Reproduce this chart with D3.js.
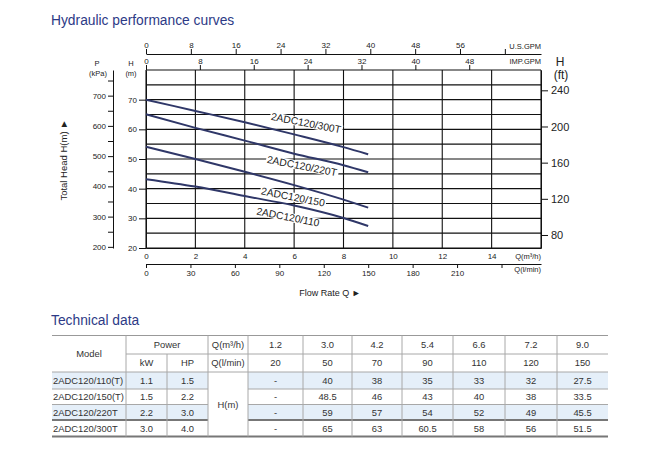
<!DOCTYPE html>
<html>
<head>
<meta charset="utf-8">
<script src="https://cdn.jsdelivr.net/npm/d3@7/dist/d3.min.js"></script>
<style>
  body { margin: 0; background: #fff; }
  svg text { font-family: "Liberation Sans", Arial, sans-serif; }
</style>
</head>
<body>
<div class="chart"></div>
<script>
// Curve data, Q in m3/h, H in m
var flowPoints = [0, 2, 4, 6, 8, 9];
var head300T = [70, 66.2, 62.4, 58.3, 54.0, 51.6];
var head220T = [65.1, 60.5, 56.2, 51.8, 47.9, 45.5];
var head150 = [54.1, 50, 45.7, 41.2, 36.3, 33.6];
var head110 = [43.2, 40.7, 37.5, 34.3, 30.1, 27.4];
var curveNames = ["2ADC120/300T", "2ADC120/220T", "2ADC120/150", "2ADC120/110"];

// Tick values
var flowTicks = [0, 2, 4, 6, 8, 10, 12, 14];
var lpmTicks = [0, 30, 60, 90, 120, 150, 180, 210, 240];
var usGpmTicks = [0, 8, 16, 24, 32, 40, 48, 56, 64];
var impGpmTicks = [0, 8, 16, 24, 32, 40, 48];
var headTicks = [20, 30, 40, 50, 60, 70];
var kpaTicks = [200, 250, 300, 350, 400, 450, 500, 550, 600, 650, 700, 750];
var ftTicks = [80, 120, 160, 200, 240];

// Technical data table
var tableModels = ["2ADC120/110(T)", "2ADC120/150(T)", "2ADC120/220T", "2ADC120/300T"];
var tableKw = ["1.1", "1.5", "2.2", "3.0"];
var tableHp = ["1.5", "2.2", "3.0", "4.0"];
var tableFlowM3h = ["1.2", "3.0", "4.2", "5.4", "6.6", "7.2", "9.0"];
var tableFlowLmin = ["20", "50", "70", "90", "110", "120", "150"];
var tableHead110 = ["-", "40", "38", "35", "33", "32", "27.5"];
var tableHead150 = ["-", "48.5", "46", "43", "40", "38", "33.5"];
var tableHead220 = ["-", "59", "57", "54", "52", "49", "45.5"];
var tableHead300 = ["-", "65", "63", "60.5", "58", "56", "51.5"];

var svgWidth = 646;
var svgHeight = 460;

var svg = d3.select(".chart")
  .append("svg")
  .attr("width", svgWidth)
  .attr("height", svgHeight);

var titleColor = "#2d3a86";
var curveColor = "#2f3768";

svg.append("text")
  .attr("x", 51).attr("y", 25)
  .attr("font-size", "13.8px")
  .attr("fill", titleColor)
  .text("Hydraulic performance curves");

svg.append("text")
  .attr("x", 51).attr("y", 325)
  .attr("font-size", "13.8px")
  .attr("fill", titleColor)
  .text("Technical data");

// Plot box
var plotLeft = 146, plotRight = 541, plotTop = 70, plotBottom = 248;

var xScale = d3.scaleLinear().domain([0, 16]).range([plotLeft, plotRight]);
var yScale = d3.scaleLinear().domain([20, 80]).range([plotBottom, plotTop]);
var lpmScale = d3.scaleLinear().domain([0, 16 * 1000 / 60]).range([plotLeft, plotRight]);
var usScale = d3.scaleLinear().domain([0, 16 * 4.40287]).range([plotLeft, plotRight]);
var impScale = d3.scaleLinear().domain([0, 16 * 3.66615]).range([plotLeft, plotRight]);
var kpaScale = d3.scaleLinear().domain([20 * 9.81, 80 * 9.81]).range([plotBottom, plotTop]);
var ftScale = d3.scaleLinear().domain([20 / 0.3048, 80 / 0.3048]).range([plotBottom, plotTop]);

// Grid
var grid = svg.append("g").attr("stroke", "#111").attr("stroke-width", 1.1);
grid.selectAll(".vg").data(d3.range(0, 17, 2)).enter().append("line")
  .attr("x1", d => xScale(d)).attr("x2", d => xScale(d))
  .attr("y1", plotTop).attr("y2", plotBottom);
grid.selectAll(".hg").data(d3.range(20, 81, 5)).enter().append("line")
  .attr("x1", plotLeft).attr("x2", plotRight)
  .attr("y1", d => yScale(d)).attr("y2", d => yScale(d));

function styleAxis(g, size) {
  g.selectAll("text").attr("font-size", size).attr("fill", "#222")
    .style("font-family", "'Liberation Sans', Arial, sans-serif");
  g.selectAll("line").attr("stroke", "#111");
  g.select(".domain").attr("stroke", "#111");
}

// H(m) left axis
var hAxis = svg.append("g")
  .attr("transform", `translate(${plotLeft},0)`)
  .call(d3.axisLeft(yScale).tickValues(headTicks).tickSize(7).tickSizeOuter(0).tickPadding(2));
styleAxis(hAxis, "8px");

// P(kPa) axis
var pAxis = svg.append("g")
  .attr("transform", "translate(113,0)")
  .call(d3.axisLeft(kpaScale).tickValues(kpaTicks).tickSize(5).tickSizeOuter(0).tickPadding(2)
    .tickFormat(d => d % 100 === 0 ? d : ""));
styleAxis(pAxis, "8px");

// H(ft) right axis
var ftAxis = svg.append("g")
  .attr("transform", `translate(${plotRight},0)`)
  .call(d3.axisRight(ftScale).tickValues(ftTicks).tickSize(7).tickSizeOuter(0).tickPadding(3));
styleAxis(ftAxis, "11px");

// Top axes
var usAxis = svg.append("g")
  .attr("transform", "translate(0,54)")
  .call(d3.axisTop(usScale).tickValues(usGpmTicks).tickSize(5).tickSizeOuter(0).tickPadding(1)
    .tickFormat(d => d === 64 ? "" : d));
styleAxis(usAxis, "8px");

var impAxis = svg.append("g")
  .attr("transform", `translate(0,${plotTop})`)
  .call(d3.axisTop(impScale).tickValues(impGpmTicks).tickSize(5).tickSizeOuter(0).tickPadding(1));
impAxis.select(".domain").remove();
styleAxis(impAxis, "8px");

// Bottom axes
var qAxis = svg.append("g")
  .attr("transform", `translate(0,${plotBottom})`)
  .call(d3.axisBottom(xScale).tickValues(flowTicks).tickSize(0).tickPadding(5));
styleAxis(qAxis, "8px");

var lpmAxis = svg.append("g")
  .attr("transform", "translate(0,264)")
  .call(d3.axisBottom(lpmScale).tickValues(lpmTicks).tickSize(4).tickSizeOuter(0).tickPadding(2)
    .tickFormat(d => d === 240 ? "" : d));
styleAxis(lpmAxis, "8px");

// Axis unit labels
function smallLabel(x, y, txt, size, anchor) {
  svg.append("text").attr("x", x).attr("y", y)
    .attr("font-size", size || "7.5px")
    .attr("text-anchor", anchor || "middle")
    .attr("fill", "#222")
    .text(txt);
}
smallLabel(97, 66, "P");
smallLabel(98, 76, "(kPa)");
smallLabel(131, 66, "H");
smallLabel(131, 76, "(m)");
smallLabel(560, 66, "H", "12px");
smallLabel(561, 79, "(ft)", "12px");
smallLabel(541, 49, "U.S.GPM", "7.5px", "end");
smallLabel(541, 64, "IMP.GPM", "7.5px", "end");
smallLabel(541, 259, "Q(m³/h)", "7.5px", "end");
smallLabel(541, 272, "Q(l/min)", "7.5px", "end");
smallLabel(330, 296, "Flow Rate Q ►", "9px");

svg.append("text")
  .attr("transform", "translate(67,160) rotate(-90)")
  .attr("text-anchor", "middle")
  .attr("font-size", "9.5px")
  .attr("fill", "#222")
  .text("Total Head H(m) ►");

// Curve labels with white background (under the curves)
var labelPos = [[306, 123], [302, 166], [293, 197], [288, 217]];
var labelLayer = svg.append("g");
curveNames.forEach(function(name, i) {
  var g = labelLayer.append("g")
    .attr("transform", `translate(${labelPos[i][0]},${labelPos[i][1]}) rotate(11)`);
  var t = g.append("text")
    .attr("text-anchor", "middle")
    .attr("dy", "0.35em")
    .attr("font-size", "10.3px")
    .attr("fill", "#222")
    .text(name);
  var bb = t.node().getBBox();
  g.insert("rect", "text")
    .attr("x", bb.x - 1).attr("y", bb.y + 1)
    .attr("width", bb.width + 2).attr("height", bb.height - 2)
    .attr("fill", "#fff");
});

// Curves
var curveSeries = [head300T, head220T, head150, head110];
var line = d3.line()
  .x((d, i) => xScale(flowPoints[i]))
  .y(d => yScale(d))
  .curve(d3.curveMonotoneX);

svg.selectAll(".curve").data(curveSeries).enter().append("path")
  .attr("class", "curve")
  .attr("d", d => line(d))
  .attr("fill", "none")
  .attr("stroke", curveColor)
  .attr("stroke-width", 2);

// Table
var colEdges = [52, 126, 167, 208, 248, 303, 352, 402, 453, 505, 557, 608];
var rowEdges = [335.5, 354, 372, 389, 404.5, 420, 436.5];
var tableHeads = [tableHead110, tableHead150, tableHead220, tableHead300];
var table = svg.append("g");
var textColor = "#333";
var blueFill = "#e5eff9";

// shaded rows
[0, 2].forEach(function(r) {
  table.append("rect")
    .attr("x", colEdges[0]).attr("y", rowEdges[r + 2])
    .attr("width", colEdges[3] - colEdges[0]).attr("height", rowEdges[r + 3] - rowEdges[r + 2])
    .attr("fill", blueFill);
  table.append("rect")
    .attr("x", colEdges[4]).attr("y", rowEdges[r + 2])
    .attr("width", colEdges[11] - colEdges[4]).attr("height", rowEdges[r + 3] - rowEdges[r + 2])
    .attr("fill", blueFill);
});

function hline(x1, x2, y, w, c) {
  table.append("line").attr("x1", x1).attr("x2", x2).attr("y1", y).attr("y2", y)
    .attr("stroke", c || "#a8a8a8").attr("stroke-width", w || 1);
}
function vline(x, y1, y2) {
  table.append("line").attr("x1", x).attr("x2", x).attr("y1", y1).attr("y2", y2)
    .attr("stroke", "#a8a8a8").attr("stroke-width", 1);
}
hline(colEdges[0], colEdges[11], rowEdges[0], 1.2, "#999");
hline(colEdges[1], colEdges[11], rowEdges[1]);
hline(colEdges[0], colEdges[11], rowEdges[2]);
[3, 4].forEach(function(r) {
  hline(colEdges[0], colEdges[3], rowEdges[r]);
  hline(colEdges[4], colEdges[11], rowEdges[r]);
});
hline(colEdges[0], colEdges[3], rowEdges[5], 2, "#777");
hline(colEdges[4], colEdges[11], rowEdges[5], 2, "#777");
hline(colEdges[0], colEdges[11], rowEdges[6], 2, "#777");
for (var c = 1; c < 11; c++) {
  vline(colEdges[c], c === 2 ? rowEdges[1] : rowEdges[0], rowEdges[6]);
}

function cell(x, y, txt, anchor) {
  table.append("text")
    .attr("x", x).attr("y", y)
    .attr("dy", "0.35em")
    .attr("text-anchor", anchor || "middle")
    .attr("font-size", "9.4px")
    .attr("fill", textColor)
    .text(txt);
}
function colMid(c) { return (colEdges[c] + colEdges[c + 1]) / 2; }
function rowMid(r) { return (rowEdges[r] + rowEdges[r + 1]) / 2; }

cell(colMid(0), (rowEdges[0] + rowEdges[2]) / 2, "Model");
cell((colEdges[1] + colEdges[3]) / 2, rowMid(0), "Power");
cell(colMid(1), rowMid(1), "kW");
cell(colMid(2), rowMid(1), "HP");
cell(colMid(3), rowMid(0), "Q(m³/h)");
cell(colMid(3), rowMid(1), "Q(l/min)");
cell(colMid(3), (rowEdges[2] + rowEdges[6]) / 2, "H(m)");
tableFlowM3h.forEach((d, i) => cell(colMid(i + 4), rowMid(0), d));
tableFlowLmin.forEach((d, i) => cell(colMid(i + 4), rowMid(1), d));
tableModels.forEach(function(m, r) {
  cell(colEdges[0] + 1, rowMid(r + 2), m, "start");
  cell(colMid(1), rowMid(r + 2), tableKw[r]);
  cell(colMid(2), rowMid(r + 2), tableHp[r]);
  tableHeads[r].forEach((d, i) => cell(colMid(i + 4), rowMid(r + 2), d));
});
</script>
</body>
</html>
